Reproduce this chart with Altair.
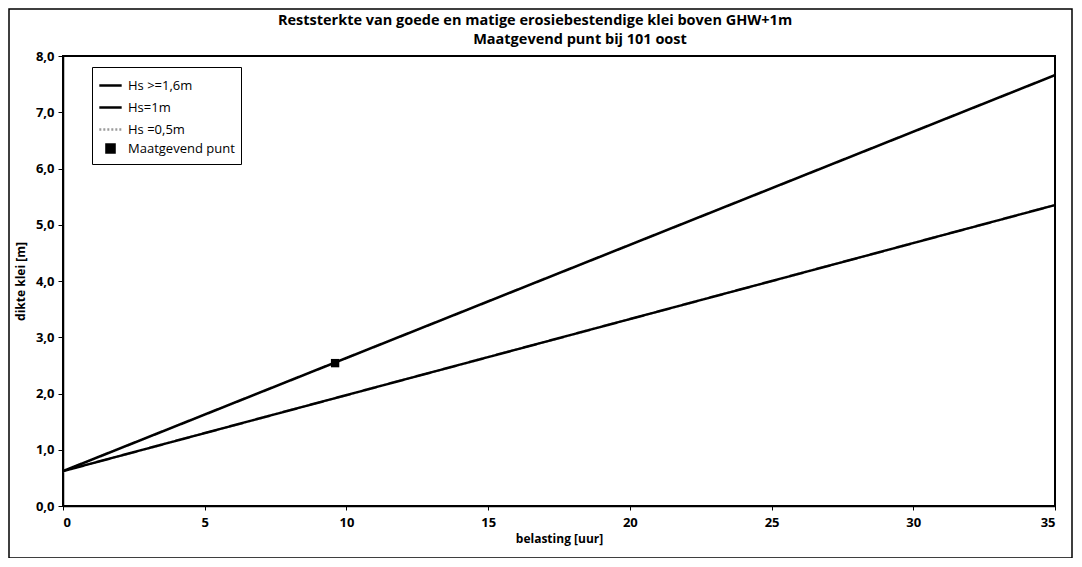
import altair as alt
import pandas as pd

# Data
belasting = [0, 35]
hs_16 = [0.62, 7.66]
hs_10 = [0.62, 5.35]
hs_05 = [0.62, 5.35]
punt_x = [9.6]
punt_y = [2.54]

series = ["Hs >=1,6m", "Hs=1m", "Hs =0,5m", "Maatgevend punt"]
title_1 = "Reststerkte van goede en matige erosiebestendige klei boven GHW+1m"
title_2 = "Maatgevend punt bij 101 oost"

rows = []
for name, ys in [(series[2], hs_05), (series[0], hs_16), (series[1], hs_10)]:
    for x, y in zip(belasting, ys):
        rows.append({"belasting": x, "dikte": y, "serie": name})
lines_df = pd.DataFrame(rows)
punt_df = pd.DataFrame({"belasting": punt_x, "dikte": punt_y, "serie": [series[3]]})

FONT = "Open Sans"
label_expr = "replace(format(datum.value, '.1f'), '.', ',')"

xscale = alt.Scale(domain=[0, 35], nice=False, zero=False)
yscale = alt.Scale(domain=[0, 8], nice=False, zero=False)

color = alt.Color(
    "serie:N",
    scale=alt.Scale(domain=series, range=["black", "black", "#9a9a9a", "black"]),
    legend=alt.Legend(
        title=None, orient="none", legendX=29, legendY=11,
        fillColor="white", strokeColor="black", padding=6,
        labelFont=FONT, labelFontSize=13, labelColor="black",
        symbolStrokeWidth=2, rowPadding=2, labelOffset=5,
        cornerRadius=0,
    ),
)
dash = alt.StrokeDash(
    "serie:N",
    scale=alt.Scale(domain=series, range=[[1, 0], [1, 0], [2, 2], [1, 0]]),
)
shape = alt.Shape(
    "serie:N",
    scale=alt.Scale(domain=series, range=["stroke", "stroke", "stroke", "square"]),
)
size = alt.Size(
    "serie:N",
    scale=alt.Scale(type="ordinal", domain=series, range=[500, 500, 500, 70]),
)
width = alt.StrokeWidth(
    "serie:N",
    scale=alt.Scale(domain=series, range=[2.6, 2.2, 1.2, 1]),
    legend=None,
)

x_enc = alt.X(
    "belasting:Q", scale=xscale,
    axis=alt.Axis(title="belasting [uur]", values=[0, 5, 10, 15, 20, 25, 30, 35],
                  grid=False, tickSize=4, labelPadding=6, titlePadding=4),
)
y_enc = alt.Y(
    "dikte:Q", scale=yscale,
    axis=alt.Axis(title="dikte klei [m]", values=[0, 1, 2, 3, 4, 5, 6, 7, 8],
                  labelExpr=label_expr, grid=False, tickSize=5, labelPadding=4,
                  titlePadding=8),
)

lines = alt.Chart(lines_df).mark_line(clip=True).encode(
    x=x_enc, y=y_enc, color=color, strokeDash=dash, strokeWidth=width,
    order=alt.Order("belasting:Q"),
)
punt = alt.Chart(punt_df).mark_point(filled=True, opacity=1).encode(
    x="belasting:Q", y="dikte:Q", color=color, shape=shape, size=size,
)

frame = alt.Chart(pd.DataFrame({"a": [0]})).mark_rect(
    fill="transparent", stroke="black", strokeWidth=1.5
).encode(x=alt.value(-54), x2=alt.value(1009), y=alt.value(-47), y2=alt.value(502))

subtitle = alt.Chart(pd.DataFrame({"t": [title_2]})).mark_text(
    font=FONT, fontSize=14.5, fontWeight="bold", color="black",
    align="center", baseline="middle",
).encode(text="t:N", x=alt.value(517), y=alt.value(-16))

chart = alt.layer(frame, lines, punt, subtitle).properties(
    width=992, height=450,
    background="white",
    autosize=alt.AutoSizeParams(type="none"),
    padding={"left": 55, "top": 48, "right": 18, "bottom": 52},
    title=alt.TitleParams(
        text=title_1,
        font=FONT, fontSize=14.5, fontWeight="bold", color="black",
        anchor="middle", offset=0, dy=20, dx=-24,
    ),
).configure_view(stroke="black", strokeWidth=2).configure_axis(
    labelFont=FONT, labelFontSize=13, labelFontWeight="bold", labelColor="black",
    titleFont=FONT, titleFontSize=12, titleFontWeight="bold", titleColor="black",
    domainColor="black", tickColor="black", domainWidth=1.5,
)

chart.save("out.html", embed_options={"renderer": "svg", "actions": False})
